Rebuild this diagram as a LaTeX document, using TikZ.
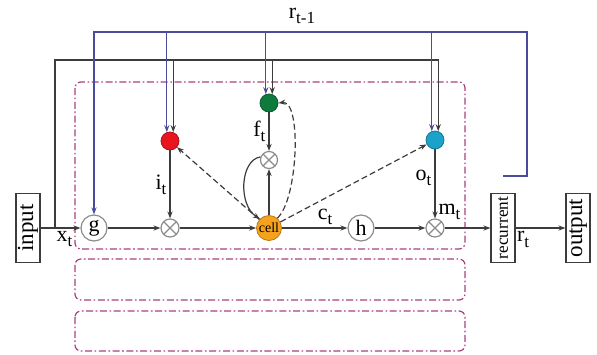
\documentclass[tikz,border=0pt]{standalone}
\usepackage{fontspec}
\setmainfont{Liberation Serif}
\usetikzlibrary{arrows.meta, positioning, calc}
\definecolor{cline}{HTML}{3C3C3C}
\definecolor{cblue}{HTML}{4A4A9E}
\definecolor{cmag}{HTML}{A8407E}
\definecolor{cred}{HTML}{E8151F}
\definecolor{cgreen}{HTML}{0E7A3C}
\definecolor{ccyan}{HTML}{1AA2C8}
\definecolor{corange}{HTML}{F6A21C}
\definecolor{cgrey}{HTML}{8C8C8C}
\newcommand{\lab}[2]{#1\raisebox{-0.5ex}{\fontsize{8.5}{9}\selectfont #2}}
\tikzset{
  every picture/.style={line width=0.6pt},
  line/.style={draw=cline},
  arr/.style={draw=cline, -{Stealth[length=3.5pt, width=2.6pt]}},
  barr/.style={draw=cblue, -{Stealth[length=3.5pt, width=2.6pt]}},
  dasharr/.style={arr, dash pattern=on 3pt off 1.6pt},
  block/.style={draw=cmag, rounded corners=3pt, line width=0.6pt,
    dash pattern=on 3.5pt off 1.3pt on 0.8pt off 1.3pt},
  box/.style={draw=cline, fill=white, rotate=90, minimum width=34.5pt,
    minimum height=12pt, inner sep=1pt, font=\fontsize{11.5}{12}\selectfont},
  gate/.style={circle, draw=#1!75!black, fill=#1, line width=0.4pt, minimum size=9pt, inner sep=0pt},
  unit/.style={circle, draw=cgrey, fill=white, minimum size=13pt, inner sep=0pt, font=\fontsize{11}{12}\selectfont},
  mul/.style={circle, draw=cgrey, fill=white, minimum size=9pt, inner sep=0pt,
    path picture={\draw[cgrey] (path picture bounding box.center) ++(45:4.5pt) -- ++(225:9pt);
      \draw[cgrey] (path picture bounding box.center) ++(135:4.5pt) -- ++(315:9pt);}},
  lab/.style={font=\fontsize{11}{12}\selectfont, inner sep=1.5pt},
}

\begin{document}
\begin{tikzpicture}[x=0.5pt, y=-0.5pt]
  \useasboundingbox (0,0) rectangle (597,354);
  % memory blocks
  \foreach \ya/\yb in {82/249, 259/300, 311/351}
    \draw[block] (75,\ya) rectangle (465,\yb);
  % main row
  \node[box] (input) at (28,228) {input};
  \node[unit] (g) at (94,228) {g};
  \node[mul] (imul) at (170,228) {};
  \node[gate=corange, minimum size=12.5pt, font=\fontsize{7}{8}\selectfont] (cell) at (269,228) {cell};
  \node[unit] (h) at (361,228) {h};
  \node[mul] (mmul) at (435,228) {};
  \node[box, font=\fontsize{8.6}{9}\selectfont] (rec) at (503,228) {recurrent};
  \node[box] (output) at (578,228) {output};
  % gates
  \node[gate=cred] (igate) at (170,141) {};
  \node[gate=cgreen] (fgate) at (269,103) {};
  \node[gate=ccyan] (ogate) at (435,140) {};
  \node[mul, minimum size=8.5pt] (fmul) at (269,160) {};
  \coordinate (xtap) at (55,228);
  \coordinate (ktop) at (0,60);
  \coordinate (btop) at (527,32);
  \coordinate (rtap) at ([yshift=8.5pt]rec.east);
  \node[lab] (rprev) at (302,16) {\lab{r}{t-1}};
  % forward path
  \draw[arr] (input) -- node[lab, below, pos=0.6] {\lab{x}{t}} (g);
  \draw[arr] (g) -- (imul);
  \draw[arr] (imul) -- (cell);
  \draw[arr] (cell) -- node[lab, above, pos=0.66] {\lab{c}{t}} (h);
  \draw[arr] (h) -- (mmul);
  \draw[arr] (mmul) -- (rec);
  \draw[arr] (rec) -- node[lab, below, pos=0.15] {\lab{r}{t}} (output);
  % gate outputs
  \draw[arr] (igate) -- node[lab, left] {\lab{i}{t}} (imul);
  \draw[arr] (fgate) -- node[lab, left, pos=0.48] {\lab{f}{t}} (fmul);
  \draw[arr] (ogate) -- node[lab, left, pos=0.41] {\lab{o}{t}} node[lab, right, pos=0.9] {\lab{m}{t}} (mmul);
  % cell loop
  \draw[arr] (cell) -- (fmul);
  \draw[arr] (fmul.160) .. controls (240,160) and (238,205) .. (cell.135);
  % peepholes
  \draw[dasharr] (cell) -- (igate);
  \draw[dasharr] (cell) -- (ogate);
  \draw[dasharr] (cell.50) .. controls (298,200) and (302,100) .. (fgate.east);
  % input feedback
  \draw[arr] (xtap) |- (ogate.70 |- ktop) -- (ogate.70);
  \draw[arr] (igate.70 |- ktop) -- (igate.70);
  \draw[arr] (fgate.70 |- ktop) -- (fgate.70);
  % recurrent feedback
  \draw[barr] (rtap) -| (btop) -| (g.north);
  \draw[barr] (igate.110 |- btop) -- (igate.110);
  \draw[barr] (fgate.110 |- btop) -- (fgate.110);
  \draw[barr] (ogate.110 |- btop) -- (ogate.110);
\end{tikzpicture}
\end{document}
